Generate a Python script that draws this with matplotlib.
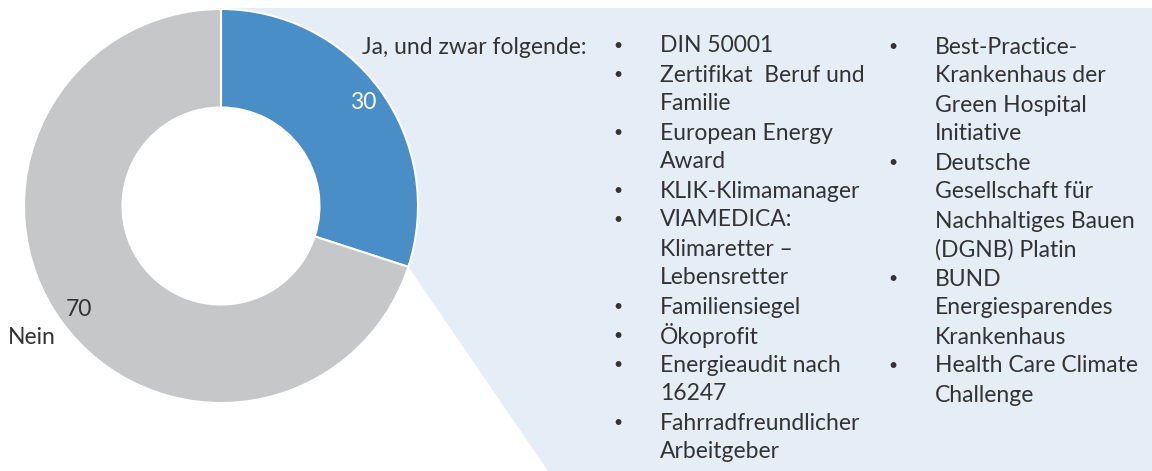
import numpy as np
import matplotlib
matplotlib.use("Agg")
import matplotlib.pyplot as plt
from matplotlib.patches import Polygon

# Data
shares = [30, 70]
share_labels = ["Ja, und zwar folgende:", "Nein"]
colors = ["#4A8EC8", "#C6C7C9"]

# Certificates named by the "Ja" group, already split into printed lines
list_left = [
    ["DIN 50001"],
    ["Zertifikat  Beruf und", "Familie"],
    ["European Energy", "Award"],
    ["KLIK-Klimamanager"],
    ["VIAMEDICA:", "Klimaretter \u2013", "Lebensretter"],
    ["Familiensiegel"],
    ["\u00d6koprofit"],
    ["Energieaudit nach", "16247"],
    ["Fahrradfreundlicher", "Arbeitgeber"],
]
list_right = [
    ["Best-Practice-", "Krankenhaus der", "Green Hospital", "Initiative"],
    ["Deutsche", "Gesellschaft f\u00fcr", "Nachhaltiges Bauen", "(DGNB) Platin"],
    ["BUND", "Energiesparendes", "Krankenhaus"],
    ["Health Care Climate", "Challenge"],
]

# Layout (pixel-like units, y pointing up)
W, H = 1152, 471
CX, CY, R = 221, 265, 197
TXT = "#333333"
FONT = ["Lato", "DejaVu Sans"]
FS = 16.5
LINE = 29

plt.rcParams["font.family"] = FONT

fig = plt.figure(figsize=(W / 100, H / 100), dpi=100)
ax = fig.add_axes([0, 0, 1, 1])

# light blue callout behind the "Ja" wedge (drawn first), bounded by the outer arc
end = np.deg2rad(90 - 360 * shares[0] / sum(shares))
arc = np.linspace(end, np.pi / 2, 60)
arc_pts = list(zip(CX + R * np.cos(arc), CY + R * np.sin(arc)))
bg = Polygon([(CX, CY + R + 1), (W, CY + R + 1), (W, 0), (548, 0)] + arc_pts,
             closed=True, facecolor="#E5EDF7", edgecolor="none")
ax.add_patch(bg)

wedges, texts, autotexts = ax.pie(
    shares, center=(CX, CY), radius=R, startangle=90, counterclock=False,
    colors=colors, autopct=lambda p: f"{p:.0f}", pctdistance=0.89,
    wedgeprops=dict(width=R * 0.5, edgecolor="white", linewidth=1.5),
    textprops=dict(fontsize=FS, color=TXT),
)
autotexts[0].set_color("white")

# category labels
ax.text(362, H - 47, share_labels[0], fontsize=FS, color=TXT, ha="left", va="center")
ax.text(8, H - 338, share_labels[1], fontsize=FS, color=TXT, ha="left", va="center")


def draw_list(items, x_bullet, x_text, y_top):
    y = y_top
    for item in items:
        ax.text(x_bullet, y, "\u2022", fontsize=FS * 0.7, color=TXT, ha="center", va="center")
        for line in item:
            ax.text(x_text, y, line, fontsize=FS, color=TXT, ha="left", va="center")
            y -= LINE


draw_list(list_left, 618, 660, H - 46)
draw_list(list_right, 893, 935, H - 47)

ax.set_xlim(0, W)
ax.set_ylim(0, H)
ax.set_aspect("equal")
ax.axis("off")

fig.savefig("out.png", dpi=100, facecolor="white")
